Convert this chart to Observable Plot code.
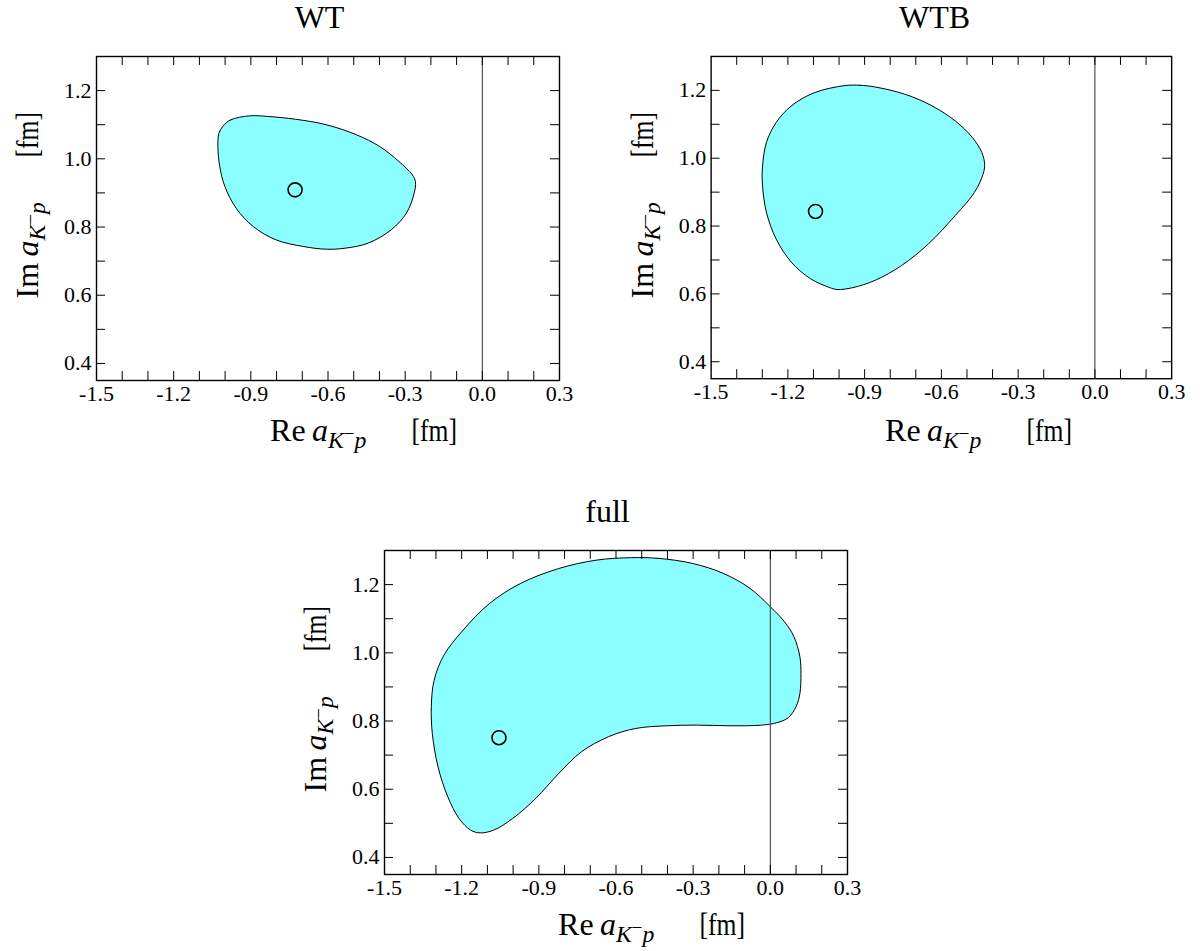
<!DOCTYPE html>
<html>
<head>
<meta charset="utf-8">
<script src="https://cdn.jsdelivr.net/npm/d3@7"></script>
<script src="https://cdn.jsdelivr.net/npm/@observablehq/plot@0.6"></script>
<style>
  body { margin: 0; background: #fff; }
  #chart { position: relative; width: 1201px; height: 951px; font-family: "Liberation Serif", "Times New Roman", serif; color: #000; overflow: hidden; }
  .panel { position: absolute; }
  .title { position: absolute; font-size: 32px; line-height: 32px; white-space: nowrap; transform: translate(-50%, 0); }
  .xlab { position: absolute; font-size: 32px; line-height: 32px; white-space: nowrap; transform: translate(-50%, 0); }
  .ylab { position: absolute; font-size: 32px; line-height: 32px; white-space: nowrap; transform: translate(-50%, -50%) rotate(-90deg); }
  .sub { font-size: 0.74em; position: relative; top: 0.3em; }
  .sup { font-size: 0.8em; position: relative; top: -0.45em; }
  .gap { display: inline-block; width: 1.4em; }
  .fm { display: inline-block; transform: scaleX(0.8); transform-origin: left center; margin-right: -11px; }
</style>
</head>
<body>
<div id="chart"></div>
<script>
// ---- data ----
const panelTitles = ["WT", "WTB", "full"];
const xTickLabels = [-1.5, -1.2, -0.9, -0.6, -0.3, 0.0, 0.3];
const yTickLabels = [0.4, 0.6, 0.8, 1.0, 1.2];
const xMinorTicks = [-1.4, -1.3, -1.2, -1.1, -1.0, -0.9, -0.8, -0.7, -0.6, -0.5, -0.4, -0.3, -0.2, -0.1, 0.0, 0.1, 0.2];
const yMinorTicks = [0.4, 0.5, 0.6, 0.7, 0.8, 0.9, 1.0, 1.1, 1.2];

// WT contour
const wtX = [-1.009, -0.979, -0.905, -0.830, -0.726, -0.607, -0.488, -0.399, -0.324, -0.272, -0.260, -0.265, -0.295, -0.354, -0.443, -0.533, -0.607, -0.696, -0.801, -0.890, -0.957, -1.001, -1.021, -1.028, -1.024];
const wtY = [1.095, 1.114, 1.126, 1.124, 1.116, 1.100, 1.070, 1.036, 0.992, 0.953, 0.933, 0.899, 0.841, 0.792, 0.753, 0.738, 0.735, 0.743, 0.762, 0.801, 0.855, 0.919, 0.978, 1.036, 1.075];

// WTB contour
const wtbX = [-0.978, -0.919, -0.859, -0.740, -0.636, -0.546, -0.479, -0.442, -0.431, -0.437, -0.471, -0.546, -0.650, -0.755, -0.859, -0.949, -1.008, -1.038, -1.112, -1.187, -1.246, -1.284, -1.299, -1.299, -1.284, -1.246, -1.187, -1.097];
const wtbY = [1.214, 1.215, 1.210, 1.188, 1.154, 1.110, 1.061, 1.017, 0.982, 0.953, 0.899, 0.831, 0.748, 0.684, 0.640, 0.618, 0.613, 0.619, 0.645, 0.694, 0.762, 0.841, 0.919, 0.977, 1.046, 1.105, 1.154, 1.193];

// full contour
const fullX = [-0.540, -0.436, -0.302, -0.183, -0.079, 0.000, 0.055, 0.092, 0.115, 0.119, 0.115, 0.100, 0.070, 0.025, -0.034, -0.153, -0.287, -0.406, -0.525, -0.629, -0.734, -0.823, -0.912, -1.002, -1.076, -1.128, -1.165, -1.210, -1.254, -1.292, -1.314, -1.318, -1.307, -1.269, -1.195, -1.091, -0.972, -0.823, -0.674];
const fullY = [1.279, 1.277, 1.262, 1.233, 1.189, 1.135, 1.091, 1.047, 0.988, 0.939, 0.881, 0.842, 0.810, 0.795, 0.788, 0.786, 0.788, 0.786, 0.778, 0.754, 0.710, 0.646, 0.573, 0.514, 0.480, 0.472, 0.480, 0.514, 0.578, 0.666, 0.763, 0.842, 0.920, 0.993, 1.066, 1.145, 1.203, 1.247, 1.272];

// best-fit points
const bestX = [-0.728, -1.092, -1.055];
const bestY = [0.909, 0.843, 0.751];

// ---- layout ----
const W = 463, H = 324, ML = 70, MR = 30, MT = 10, MB = 40;
const frames = [
  {left: 96, top: 56},
  {left: 711, top: 56},
  {left: 384, top: 550}
];
const contours = [[wtX, wtY], [wtbX, wtbY], [fullX, fullY]];
const serif = '"Liberation Serif", "Times New Roman", serif';
const fillColor = "#8bffff";

function makePanel(i) {
  const [cx, cy] = contours[i];
  const boundary = cx.map((x, k) => ({x, y: cy[k]}));
  const fmt = d => d.toFixed(1);
  return Plot.plot({
    width: ML + W + MR,
    height: MT + H + MB,
    marginLeft: ML, marginRight: MR, marginTop: MT, marginBottom: MB,
    style: {fontFamily: serif, fontSize: "22px", background: "transparent", overflow: "visible", color: "black"},
    x: {domain: [-1.5, 0.3], axis: null},
    y: {domain: [0.35, 1.3], axis: null},
    marks: [
      Plot.line(boundary, {x: "x", y: "y", curve: "catmull-rom-closed", fill: fillColor, stroke: "black", strokeWidth: 1}),
      Plot.ruleX([0], {stroke: "#444", strokeWidth: 1.1}),
      Plot.tickX(xMinorTicks, {x: d => d, insetTop: H - 9, stroke: "black", strokeWidth: 1}),
      Plot.tickX(xMinorTicks, {x: d => d, insetBottom: H - 9, stroke: "black", strokeWidth: 1}),
      Plot.tickY(yMinorTicks, {y: d => d, insetRight: W - 9, stroke: "black", strokeWidth: 1}),
      Plot.tickY(yMinorTicks, {y: d => d, insetLeft: W - 9, stroke: "black", strokeWidth: 1}),
      Plot.dot([{x: bestX[i], y: bestY[i]}], {x: "x", y: "y", r: 7, stroke: "black", strokeWidth: 1.6, fill: "none"}),
      Plot.frame({stroke: "black", strokeWidth: 1.4}),
      Plot.text(xTickLabels, {x: d => d, frameAnchor: "bottom", lineAnchor: "top", dy: 5, text: fmt, fontSize: 22, fontFamily: serif, fill: "black"}),
      Plot.text(yTickLabels, {y: d => d, frameAnchor: "left", textAnchor: "end", dx: -5, text: fmt, fontSize: 22, fontFamily: serif, fill: "black"})
    ]
  });
}

const chart = document.getElementById("chart");
const aLabel = '<i>a</i><span class="sub"><i>K</i><span class="sup">&#8722;</span><i>p</i></span>';

frames.forEach((f, i) => {
  const svg = makePanel(i);
  const wrap = document.createElement("div");
  wrap.className = "panel";
  wrap.style.left = (f.left - ML) + "px";
  wrap.style.top = (f.top - MT) + "px";
  wrap.appendChild(svg);
  chart.appendChild(wrap);

  const cxp = f.left + W / 2;
  const title = document.createElement("div");
  title.className = "title";
  title.textContent = panelTitles[i];
  title.style.left = (cxp - 8) + "px";
  title.style.top = (f.top - 55) + "px";
  chart.appendChild(title);

  const xl = document.createElement("div");
  xl.className = "xlab";
  xl.innerHTML = 'Re&#8201;' + aLabel + '<span class="gap"></span><span class="fm">[fm]</span>';
  xl.style.left = (cxp + 36) + "px";
  xl.style.top = (f.top + H + 34) + "px";
  chart.appendChild(xl);

  const yl = document.createElement("div");
  yl.className = "ylab";
  yl.innerHTML = 'Im&#8201;' + aLabel + '<span class="gap"></span><span class="fm">[fm]</span>';
  yl.style.left = (f.left - 67) + "px";
  yl.style.top = (f.top + H / 2 - 13) + "px";
  chart.appendChild(yl);
});
</script>
</body>
</html>
